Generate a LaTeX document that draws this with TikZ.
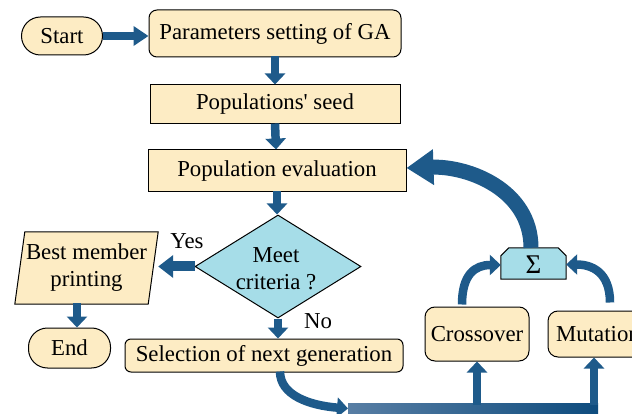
\documentclass[tikz,border=0pt]{standalone}
\usepackage{fontspec}
\setmainfont{Liberation Serif}[Ligatures=TeX]
\newfontfamily\labelfont{Liberation Serif}
\usetikzlibrary{arrows.meta,shapes.geometric,calc}
\definecolor{boxfill}{RGB}{253,236,196}
\definecolor{decfill}{RGB}{166,221,232}
\definecolor{flow}{RGB}{30,90,138}
\definecolor{flowlight}{RGB}{88,126,164}
\definecolor{flowdark}{RGB}{14,76,126}

\begin{document}
\begin{tikzpicture}[x=1pt,y=-1pt,
  txt/.style={font=\labelfont\fontsize{22.8}{27}\selectfont},
  proc/.style={txt, draw=black, line width=1pt, fill=boxfill, inner sep=0pt, align=center},
  pill/.style={proc, rounded corners=19pt},
  roundbox/.style={proc, rounded corners=#1},
  flowarrow/.style={draw=flow, line width=8.5pt, -{Triangle[length=11pt,width=20pt]}},
  sidearrow/.style={draw=flow, line width=10pt, -{Triangle[length=15pt,width=22pt]}},
  bigarrow/.style={draw=flow, line width=15pt, -{Triangle[length=27pt,width=34pt]}}]

\useasboundingbox (0,0) rectangle (632,414);
\clip (0,0) rectangle (632,414);

% main column
\node[pill, minimum width=81pt, minimum height=38pt] (start) at (62,36) {Start};
\node[roundbox=8pt, minimum width=252pt, minimum height=47pt] (params) at (275,33.5) {Parameters setting of GA};
\node[proc, minimum width=250pt, minimum height=39pt] (seed) at (275,104.5) {Populations\char"27\ seed};
\node[proc, minimum width=258pt, minimum height=42pt] (eval) at (277,171) {Population evaluation};
\node[diamond, draw=black, line width=1pt, fill=decfill, inner sep=0pt,
      minimum width=166pt, minimum height=103pt] (crit) at (278,266.5) {};
\node[txt, align=center] (crittext) at (276,268.5) {Meet\\criteria ?};
\node[roundbox=6pt, minimum width=278pt, minimum height=33pt] (sel) at (264,355.5) {Selection of next generation};

% output branch: parallelogram around the text node
\node[txt, align=center, minimum width=143pt, minimum height=72pt, inner sep=0pt] (best) at (86.5,268) {};
\draw[line width=1pt, fill=boxfill] ([xshift=10pt]best.north west) -- (best.north east)
  -- ([xshift=-10pt]best.south east) -- (best.south west) -- cycle;
\node[txt, align=center] (besttext) at (best) {Best member\\printing};
\node[pill, minimum width=82pt, minimum height=40pt] (end) at (69.5,348) {End};

% genetic operators
\node[roundbox=10pt, minimum width=104pt, minimum height=54pt] (cross) at (477,334) {Crossover};
\node[roundbox=10pt, minimum width=100pt, minimum height=46pt] (mut) at (598,334) {Mutation};
\node[minimum width=65pt, minimum height=31pt, inner sep=0pt] (sigma) at (533.5,263.5) {};

% summing block with chamfered top corners
\draw[line width=1pt, fill=decfill] (sigma.south west) -- ([yshift=-8pt]sigma.north west) -- ([xshift=8pt]sigma.north west)
  -- ([xshift=-8pt]sigma.north east) -- ([yshift=-8pt]sigma.north east) -- (sigma.south east) -- cycle;
\node[font=\labelfont\fontsize{27}{30}\selectfont] (sigmatext) at ([yshift=-1.5pt]sigma.center) {Σ};

% branch labels
\node[txt] (yes) at (187,241) {Yes};
\node[txt] (no) at (318,321) {No};

% straight connectors
\draw[flowarrow, -{Triangle[length=15pt,width=19pt]}] (start.east) -- (start.east -| params.west);
\draw[flowarrow] ([yshift=1pt]params.south) -- (params.south |- seed.north);
\draw[flowarrow] ([yshift=1pt]seed.south) -- ([xshift=1pt]seed.south |- eval.north);
\draw[flowarrow] ([yshift=1pt]eval.south) -- (eval.south |- crit.north);
\draw[sidearrow] (crit.west) -- (crit.west -| best.east);
\draw[flowarrow] ([xshift=-9.5pt,yshift=1pt]best.south) -- ([xshift=-9.5pt]best.south |- end.north);
\draw[flowarrow] (crit.south) -- (crit.south |- sel.north);

% distribution bar feeding the operators
\coordinate (bartop) at (348,403);
\coordinate (barin) at (348,408.5);
\fill[left color=flowlight, right color=flowdark] (bartop) rectangle (598,416);
\draw[flowarrow] ([xshift=16pt,yshift=1pt]sel.south) .. controls +(0,24) and +(-38,-3) .. (barin);
\draw[flowarrow] ([yshift=-2pt]cross.south |- bartop) -- (cross.south);
\draw[flowarrow] ([xshift=-4pt,yshift=-2pt]mut.south |- bartop) -- ([xshift=-4pt]mut.south);

% operators into the summing block, and back to evaluation
\draw[flowarrow, shorten <=2pt] ([xshift=-15pt]cross.north) .. controls +(0,-32) and +(-26,0) .. ([yshift=-1.5pt]sigma.west);
\draw[flowarrow, shorten <=8pt] ([xshift=12pt]mut.north) .. controls +(0,-38) and +(26,0) .. ([yshift=-1pt]sigma.east);
\draw[bigarrow] ([xshift=-2.5pt]sigma.north) .. controls +(0,-58) and +(62,-2) .. ([yshift=3pt]eval.east);

\end{tikzpicture}
\end{document}
